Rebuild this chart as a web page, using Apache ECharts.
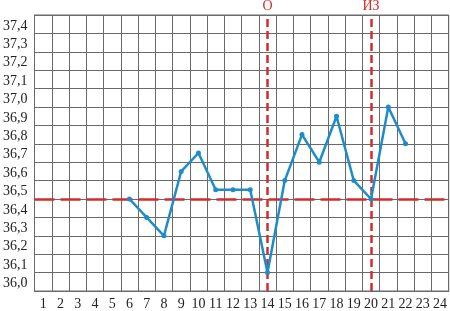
<!DOCTYPE html>
<html>
<head>
<meta charset="utf-8">
<script src="https://cdn.jsdelivr.net/npm/echarts@6/dist/echarts.min.js"></script>
<style>html,body{margin:0;padding:0;background:#fff}#c{width:450px;height:311px}</style>
</head>
<body>
<div id="c"></div>
<script>
var days = ['1','2','3','4','5','6','7','8','9','10','11','12','13','14','15','16','17','18','19','20','21','22','23','24'];
var temps = [null,null,null,null,null,36.5,36.4,36.3,36.65,36.75,36.55,36.55,36.55,36.1,36.6,36.85,36.7,36.95,36.6,36.5,37.0,36.8,null,null];
var coverLine = 36.5;
var markDays = ['14','20'];
var markTexts = ['О','ИЗ'];
var yMin = 36.0, yMax = 37.5, yStep = 0.1;

var red = '#d42b2b', gridC = '#6a6a6a', font = '"Liberation Serif", "Times New Roman", serif';
var chart = echarts.init(document.getElementById('c'));
chart.setOption({
  animation: false,
  grid: {left: 31, right: 1, top: 15, bottom: 19, show: true, borderColor: gridC, borderWidth: 1},
  xAxis: {
    type: 'category', data: days, boundaryGap: true,
    axisLine: {show: true, lineStyle: {color: gridC, width: 1}},
    axisTick: {show: false},
    axisLabel: {color: '#222', fontFamily: font, fontSize: 14, margin: 6, interval: 0},
    splitLine: {show: true, interval: 0, lineStyle: {color: gridC, width: 1}}
  },
  yAxis: {
    type: 'value', min: yMin, max: yMax, interval: yStep,
    axisLine: {show: true, lineStyle: {color: gridC, width: 1}},
    axisTick: {show: false},
    axisLabel: {color: '#222', fontFamily: font, fontSize: 14, margin: 7, verticalAlign: 'bottom', lineHeight: 15,
      formatter: function (v) { if (v > yMax - 0.05) return ''; return v.toFixed(1).replace('.', ','); }},
    splitLine: {show: true, lineStyle: {color: gridC, width: 1}}
  },
  series: [{
    type: 'line', data: temps, connectNulls: false,
    lineStyle: {color: '#1e8cc8', width: 2.5},
    itemStyle: {color: '#1e8cc8'},
    symbol: 'circle', symbolSize: 5, z: 3,
    markLine: {
      silent: true, symbol: 'none', z: 2,
      data: [
        {yAxis: coverLine, lineStyle: {color: red, width: 2.5, type: [20, 6]}, label: {show: false}},
        {xAxis: markDays[0], lineStyle: {color: red, width: 2.5, type: [8, 4]}, label: {show: true, position: 'end', formatter: markTexts[0], color: red, fontFamily: font, fontSize: 14, distance: 2}},
        {xAxis: markDays[1], lineStyle: {color: red, width: 2.5, type: [8, 4]}, label: {show: true, position: 'end', formatter: markTexts[1], color: red, fontFamily: font, fontSize: 14, distance: 2}}
      ]
    }
  }]
});
</script>
</body>
</html>
